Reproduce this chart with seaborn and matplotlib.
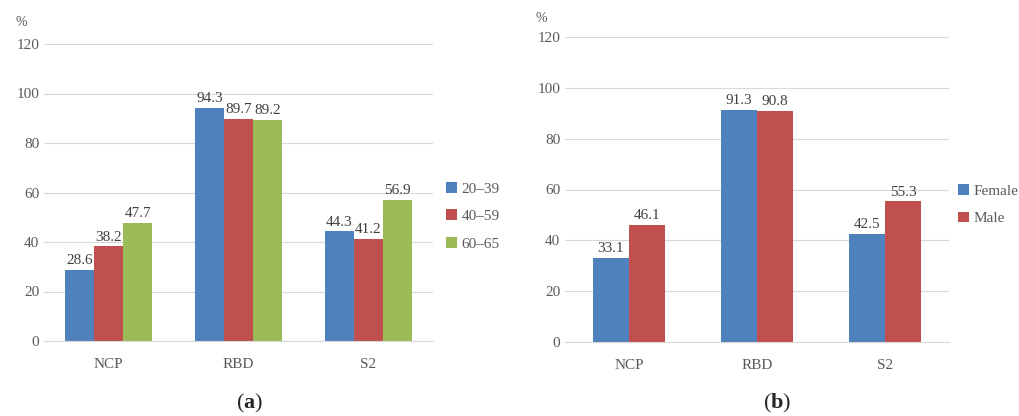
import pandas as pd
import matplotlib
matplotlib.use('Agg')
import matplotlib.pyplot as plt
import seaborn as sns

categories = ['NCP', 'RBD', 'S2']
age_groups = ['20–39', '40–59', '60–65']
age_20_39 = [28.6, 94.3, 44.3]
age_40_59 = [38.2, 89.7, 41.2]
age_60_65 = [47.7, 89.2, 56.9]
sexes = ['Female', 'Male']
female = [33.1, 91.3, 42.5]
male = [46.1, 90.8, 55.3]
yticks = [0, 20, 40, 60, 80, 100, 120]

BLUE, RED, GREEN = '#4F81BD', '#C0504D', '#9BBB59'
GRID = '#D9D9D9'
TXT = '#595959'

sns.set_style('white')
plt.rcParams['font.family'] = ['Liberation Serif', 'DejaVu Serif']
plt.rcParams['mathtext.fontset'] = 'custom'
plt.rcParams['mathtext.bf'] = 'Liberation Serif:bold'
plt.rcParams['mathtext.rm'] = 'Liberation Serif'


def long_form(series, names):
    rows = []
    for name, vals in zip(names, series):
        for c, v in zip(categories, vals):
            rows.append({'cat': c, 'grp': name, 'val': v})
    return pd.DataFrame(rows)


def style_panel(ax, fig, legend_xy, pct_xy, letter, letter_x):
    ax.set_ylim(0, 120)
    ax.set_xlim(-0.5, 2.5)
    ax.set_yticks(yticks)
    ax.yaxis.grid(True, color=GRID, linewidth=0.8)
    ax.set_axisbelow(True)
    for s in ['top', 'right', 'left']:
        ax.spines[s].set_visible(False)
    ax.spines['bottom'].set_color(GRID)
    ax.tick_params(axis='both', length=0, colors=TXT, labelsize=11)
    ax.tick_params(axis='x', pad=12)
    ax.set_xlabel('')
    ax.set_ylabel('')
    for cont in ax.containers:
        ax.bar_label(cont, fmt='%.1f', padding=2, fontsize=11, color='#404040')
    handles, labels = ax.get_legend_handles_labels()
    ax.legend(handles, labels, loc='center left', bbox_to_anchor=legend_xy,
              frameon=False, handlelength=0.7, handleheight=0.7,
              handletextpad=0.3, labelspacing=0.9, fontsize=11,
              labelcolor=TXT, borderaxespad=0.2)
    fig.text(pct_xy[0], pct_xy[1], '%', fontsize=10, color=TXT,
             ha='center', va='center')
    fig.text(letter_x, 1 - 403 / 416, '($\\mathbf{' + letter + '}$)',
             fontsize=16, ha='center', va='center')


fig = plt.figure(figsize=(10.19, 4.16), dpi=100)
ax1 = fig.add_axes([44 / 1019, 1 - 341 / 416, 389 / 1019, 297 / 416])
ax2 = fig.add_axes([565 / 1019, 1 - 342 / 416, 384 / 1019, 305 / 416])

df_age = long_form([age_20_39, age_40_59, age_60_65], age_groups)
sns.barplot(data=df_age, x='cat', y='val', hue='grp', order=categories,
            hue_order=age_groups, palette=[BLUE, RED, GREEN], saturation=1,
            width=0.67, errorbar=None, linewidth=0, ax=ax1)
style_panel(ax1, fig, (1.01, 0.42), (21 / 1019, 1 - 23 / 416), 'a', 250 / 1019)

df_sex = long_form([female, male], sexes)
sns.barplot(data=df_sex, x='cat', y='val', hue='grp', order=categories,
            hue_order=sexes, palette=[BLUE, RED], saturation=1,
            width=0.57, errorbar=None, linewidth=0, ax=ax2)
style_panel(ax2, fig, (1.0, 0.45), (541 / 1019, 1 - 18 / 416), 'b', 777 / 1019)

fig.savefig('out.png', dpi=100)
